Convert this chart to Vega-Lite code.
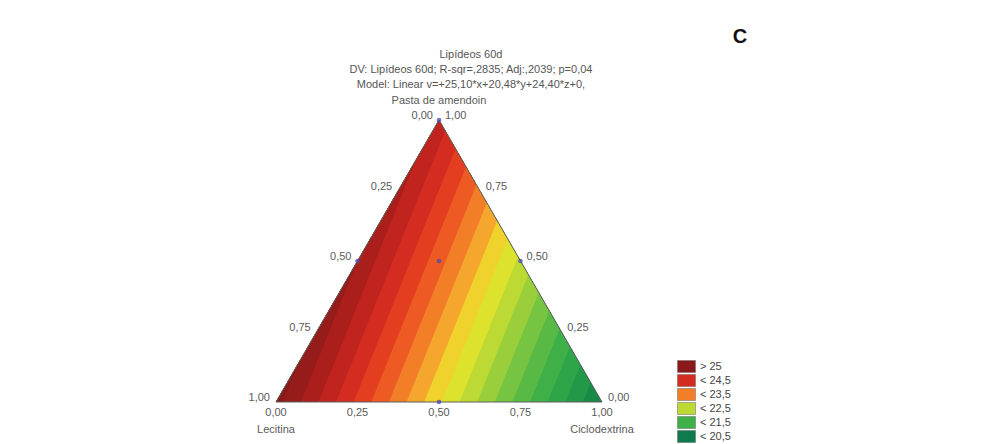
{
  "$schema": "https://vega.github.io/schema/vega-lite/v6.json",
  "width": 326,
  "height": 282,
  "autosize": {"type": "none"},
  "padding": {"left": 276, "top": 120, "right": 382, "bottom": 42},
  "background": "white",
  "config": {"view": {"stroke": null}, "text": {"font": "Liberation Sans"}},
  "datasets": {
    "regions": [
      {"band": "lt20.5", "X": 0, "Y": 0, "Y2": 0},
      {"band": "lt20.5", "X": 0.5, "Y": 0, "Y2": 0.866},
      {"band": "lt20.5", "X": 1, "Y": 0, "Y2": 0},
      {"band": "b20.50", "X": 0, "Y": 0, "Y2": 0},
      {"band": "b20.50", "X": 0.5, "Y": 0, "Y2": 0.866},
      {"band": "b20.50", "X": 0.99567, "Y": 0, "Y2": 0.0075},
      {"band": "b20.50", "X": 0.99745, "Y": 0.00442, "Y2": 0.00442},
      {"band": "b20.75", "X": 0, "Y": 0, "Y2": 0},
      {"band": "b20.75", "X": 0.5, "Y": 0, "Y2": 0.866},
      {"band": "b20.75", "X": 0.94156, "Y": 0, "Y2": 0.10122},
      {"band": "b20.75", "X": 0.96556, "Y": 0.05965, "Y2": 0.05965},
      {"band": "b21.00", "X": 0, "Y": 0, "Y2": 0},
      {"band": "b21.00", "X": 0.5, "Y": 0, "Y2": 0.866},
      {"band": "b21.00", "X": 0.88745, "Y": 0, "Y2": 0.19495},
      {"band": "b21.00", "X": 0.93368, "Y": 0.11487, "Y2": 0.11487},
      {"band": "b21.25", "X": 0, "Y": 0, "Y2": 0},
      {"band": "b21.25", "X": 0.5, "Y": 0, "Y2": 0.866},
      {"band": "b21.25", "X": 0.83333, "Y": 0, "Y2": 0.28868},
      {"band": "b21.25", "X": 0.90179, "Y": 0.17011, "Y2": 0.17011},
      {"band": "b21.50", "X": 0, "Y": 0, "Y2": 0},
      {"band": "b21.50", "X": 0.5, "Y": 0, "Y2": 0.866},
      {"band": "b21.50", "X": 0.77922, "Y": 0, "Y2": 0.38241},
      {"band": "b21.50", "X": 0.8699, "Y": 0.22535, "Y2": 0.22535},
      {"band": "b21.75", "X": 0, "Y": 0, "Y2": 0},
      {"band": "b21.75", "X": 0.5, "Y": 0, "Y2": 0.866},
      {"band": "b21.75", "X": 0.72511, "Y": 0, "Y2": 0.47613},
      {"band": "b21.75", "X": 0.83801, "Y": 0.28058, "Y2": 0.28058},
      {"band": "b22.00", "X": 0, "Y": 0, "Y2": 0},
      {"band": "b22.00", "X": 0.5, "Y": 0, "Y2": 0.866},
      {"band": "b22.00", "X": 0.671, "Y": 0, "Y2": 0.56986},
      {"band": "b22.00", "X": 0.80613, "Y": 0.3358, "Y2": 0.3358},
      {"band": "b22.25", "X": 0, "Y": 0, "Y2": 0},
      {"band": "b22.25", "X": 0.5, "Y": 0, "Y2": 0.866},
      {"band": "b22.25", "X": 0.61688, "Y": 0, "Y2": 0.6636},
      {"band": "b22.25", "X": 0.77424, "Y": 0.39104, "Y2": 0.39104},
      {"band": "b22.50", "X": 0, "Y": 0, "Y2": 0},
      {"band": "b22.50", "X": 0.5, "Y": 0, "Y2": 0.866},
      {"band": "b22.50", "X": 0.56277, "Y": 0, "Y2": 0.75733},
      {"band": "b22.50", "X": 0.74235, "Y": 0.44628, "Y2": 0.44628},
      {"band": "b22.75", "X": 0, "Y": 0, "Y2": 0},
      {"band": "b22.75", "X": 0.5, "Y": 0, "Y2": 0.866},
      {"band": "b22.75", "X": 0.50866, "Y": 0, "Y2": 0.85105},
      {"band": "b22.75", "X": 0.71046, "Y": 0.50151, "Y2": 0.50151},
      {"band": "b23.00", "X": 0, "Y": 0, "Y2": 0},
      {"band": "b23.00", "X": 0.45455, "Y": 0, "Y2": 0.78733},
      {"band": "b23.00", "X": 0.5, "Y": 0.11295, "Y2": 0.866},
      {"band": "b23.00", "X": 0.67858, "Y": 0.55673, "Y2": 0.55673},
      {"band": "b23.25", "X": 0, "Y": 0, "Y2": 0},
      {"band": "b23.25", "X": 0.40043, "Y": 0, "Y2": 0.69358},
      {"band": "b23.25", "X": 0.5, "Y": 0.24744, "Y2": 0.866},
      {"band": "b23.25", "X": 0.64669, "Y": 0.61197, "Y2": 0.61197},
      {"band": "b23.50", "X": 0, "Y": 0, "Y2": 0},
      {"band": "b23.50", "X": 0.34632, "Y": 0, "Y2": 0.59986},
      {"band": "b23.50", "X": 0.5, "Y": 0.38191, "Y2": 0.866},
      {"band": "b23.50", "X": 0.6148, "Y": 0.66721, "Y2": 0.66721},
      {"band": "b23.75", "X": 0, "Y": 0, "Y2": 0},
      {"band": "b23.75", "X": 0.29221, "Y": 0, "Y2": 0.50614},
      {"band": "b23.75", "X": 0.5, "Y": 0.51638, "Y2": 0.866},
      {"band": "b23.75", "X": 0.58291, "Y": 0.72244, "Y2": 0.72244},
      {"band": "b24.00", "X": 0, "Y": 0, "Y2": 0},
      {"band": "b24.00", "X": 0.2381, "Y": 0, "Y2": 0.41241},
      {"band": "b24.00", "X": 0.5, "Y": 0.65085, "Y2": 0.866},
      {"band": "b24.00", "X": 0.55103, "Y": 0.77766, "Y2": 0.77766},
      {"band": "b24.25", "X": 0, "Y": 0, "Y2": 0},
      {"band": "b24.25", "X": 0.18398, "Y": 0, "Y2": 0.31867},
      {"band": "b24.25", "X": 0.5, "Y": 0.78534, "Y2": 0.866},
      {"band": "b24.25", "X": 0.51914, "Y": 0.8329, "Y2": 0.8329},
      {"band": "b24.50", "X": 0, "Y": 0, "Y2": 0},
      {"band": "b24.50", "X": 0.12987, "Y": 0, "Y2": 0.22495},
      {"band": "b24.50", "X": 0.42861, "Y": 0.7424, "Y2": 0.7424},
      {"band": "b24.75", "X": 0, "Y": 0, "Y2": 0},
      {"band": "b24.75", "X": 0.07576, "Y": 0, "Y2": 0.13122},
      {"band": "b24.75", "X": 0.25002, "Y": 0.43306, "Y2": 0.43306},
      {"band": "b25.00", "X": 0, "Y": 0, "Y2": 0},
      {"band": "b25.00", "X": 0.02165, "Y": 0, "Y2": 0.03749},
      {"band": "b25.00", "X": 0.07144, "Y": 0.12373, "Y2": 0.12373}
    ],
    "outline": [
      {"i": 0, "X": 0, "Y": 0},
      {"i": 1, "X": 0.5, "Y": 0.866},
      {"i": 2, "X": 1, "Y": 0},
      {"i": 3, "X": 0, "Y": 0}
    ],
    "points": [
      {"X": 0.5, "Y": 0.866},
      {"X": 0.25, "Y": 0.433},
      {"X": 0.75, "Y": 0.433},
      {"X": 0.5, "Y": 0.433},
      {"X": 0.5, "Y": 0}
    ],
    "leftTicks": [
      {"X": 0.5, "Y": 0.866, "label": "0,00"},
      {"X": 0.375, "Y": 0.6495, "label": "0,25"},
      {"X": 0.25, "Y": 0.433, "label": "0,50"},
      {"X": 0.125, "Y": 0.2165, "label": "0,75"},
      {"X": 0, "Y": 0, "label": "1,00"}
    ],
    "rightTicks": [
      {"X": 0.5, "Y": 0.866, "label": "1,00"},
      {"X": 0.625, "Y": 0.6495, "label": "0,75"},
      {"X": 0.75, "Y": 0.433, "label": "0,50"},
      {"X": 0.875, "Y": 0.2165, "label": "0,25"},
      {"X": 1, "Y": 0, "label": "0,00"}
    ],
    "baseTicks": [
      {"X": 0, "Y": 0, "label": "0,00"},
      {"X": 0.25, "Y": 0, "label": "0,25"},
      {"X": 0.5, "Y": 0, "label": "0,50"},
      {"X": 0.75, "Y": 0, "label": "0,75"},
      {"X": 1, "Y": 0, "label": "1,00"}
    ],
    "bottomCorners": [
      {"X": 0, "Y": 0, "label": "Lecitina"},
      {"X": 1, "Y": 0, "label": "Ciclodextrina"}
    ],
    "topCorner": [
      {"X": 0.5, "Y": 0.866, "label": "Pasta de amendoin"}
    ]
  },
  "layer": [
    {
      "data": {"name": "regions"},
      "mark": {"type": "area", "opacity": 1},
      "encoding": {
        "x": {"field": "X", "type": "quantitative", "scale": {"domain": [0, 1], "nice": false, "zero": false}, "axis": null},
        "y": {"field": "Y", "type": "quantitative", "stack": null, "scale": {"domain": [0, 0.866], "nice": false, "zero": false}, "axis": null},
        "y2": {"field": "Y2"},
        "color": {
          "field": "band",
          "type": "nominal",
          "scale": {
            "domain": ["lt20.5", "b20.50", "b20.75", "b21.00", "b21.25", "b21.50", "b21.75", "b22.00", "b22.25", "b22.50", "b22.75", "b23.00", "b23.25", "b23.50", "b23.75", "b24.00", "b24.25", "b24.50", "b24.75", "b25.00"],
            "range": ["#0e7a4e", "#178a48", "#219948", "#2ea548", "#3fb048", "#58ba45", "#76c442", "#9acf3b", "#bdd934", "#dde22c", "#f0d22c", "#f5a62c", "#f27e28", "#ed5a24", "#e33e20", "#d42c20", "#c1231e", "#aa1e1c", "#961b1b", "#8a1919"]
          },
          "legend": {
            "values": ["b25.00", "b24.00", "b23.25", "b22.25", "b21.25", "lt20.5"],
            "labelExpr": "datum.value == 'b25.00' ? '> 25' : datum.value == 'b24.00' ? '< 24,5' : datum.value == 'b23.25' ? '< 23,5' : datum.value == 'b22.25' ? '< 22,5' : datum.value == 'b21.25' ? '< 21,5' : '< 20,5'",
            "title": null,
            "orient": "none",
            "legendX": 404,
            "legendY": 240,
            "padding": 0,
            "symbolType": "M-1.5,-1H1.5V1H-1.5Z",
            "symbolSize": 144,
            "symbolOpacity": 1,
            "symbolStrokeColor": "#666666",
            "symbolStrokeWidth": 0.5,
            "rowPadding": -1.6,
            "labelOffset": 7,
            "labelFont": "Liberation Sans",
            "labelFontSize": 11,
            "labelColor": "#444444"
          }
        }
      }
    },
    {
      "data": {"name": "outline"},
      "mark": {"type": "line", "stroke": "#5e5e5e", "strokeWidth": 1},
      "encoding": {
        "x": {"field": "X", "type": "quantitative"},
        "y": {"field": "Y", "type": "quantitative"},
        "order": {"field": "i", "type": "quantitative"}
      }
    },
    {
      "data": {"name": "points"},
      "mark": {"type": "point", "filled": true, "color": "#4848b0", "size": 22, "opacity": 0.75},
      "encoding": {
        "x": {"field": "X", "type": "quantitative"},
        "y": {"field": "Y", "type": "quantitative"}
      }
    },
    {
      "data": {"name": "leftTicks"},
      "mark": {"type": "text", "align": "right", "baseline": "middle", "dx": -6, "dy": -4, "fontSize": 11, "color": "#5a5a5a"},
      "encoding": {
        "x": {"field": "X", "type": "quantitative"},
        "y": {"field": "Y", "type": "quantitative"},
        "text": {"field": "label"}
      }
    },
    {
      "data": {"name": "rightTicks"},
      "mark": {"type": "text", "align": "left", "baseline": "middle", "dx": 6, "dy": -4, "fontSize": 11, "color": "#5a5a5a"},
      "encoding": {
        "x": {"field": "X", "type": "quantitative"},
        "y": {"field": "Y", "type": "quantitative"},
        "text": {"field": "label"}
      }
    },
    {
      "data": {"name": "baseTicks"},
      "mark": {"type": "text", "align": "center", "baseline": "middle", "dy": 11, "fontSize": 11, "color": "#5a5a5a"},
      "encoding": {
        "x": {"field": "X", "type": "quantitative"},
        "y": {"field": "Y", "type": "quantitative"},
        "text": {"field": "label"}
      }
    },
    {
      "data": {"name": "bottomCorners"},
      "mark": {"type": "text", "align": "center", "baseline": "middle", "dy": 28, "fontSize": 11, "color": "#5a5a5a"},
      "encoding": {
        "x": {"field": "X", "type": "quantitative"},
        "y": {"field": "Y", "type": "quantitative"},
        "text": {"field": "label"}
      }
    },
    {
      "data": {"name": "topCorner"},
      "mark": {"type": "text", "align": "center", "baseline": "middle", "dy": -19, "fontSize": 11, "color": "#5a5a5a"},
      "encoding": {
        "x": {"field": "X", "type": "quantitative"},
        "y": {"field": "Y", "type": "quantitative"},
        "text": {"field": "label"}
      }
    },
    {
      "data": {"values": [{"k": 1}]},
      "mark": {
        "type": "text",
        "align": "center",
        "baseline": "alphabetic",
        "fontSize": 11,
        "lineHeight": 15,
        "color": "#555555",
        "text": ["Lipídeos 60d", "DV: Lipídeos 60d; R-sqr=,2835; Adj:,2039; p=0,04", "Model: Linear v=+25,10*x+20,48*y+24,40*z+0,"]
      },
      "encoding": {
        "x": {"datum": 0.598, "type": "quantitative"},
        "y": {"datum": 1.0549, "type": "quantitative"}
      }
    },
    {
      "data": {"values": [{"k": 1}]},
      "mark": {"type": "text", "align": "center", "baseline": "alphabetic", "fontSize": 20, "fontWeight": "bold", "color": "#111111", "text": "C"},
      "encoding": {
        "x": {"datum": 1.4233, "type": "quantitative"},
        "y": {"datum": 1.1026, "type": "quantitative"}
      }
    }
  ]
}
